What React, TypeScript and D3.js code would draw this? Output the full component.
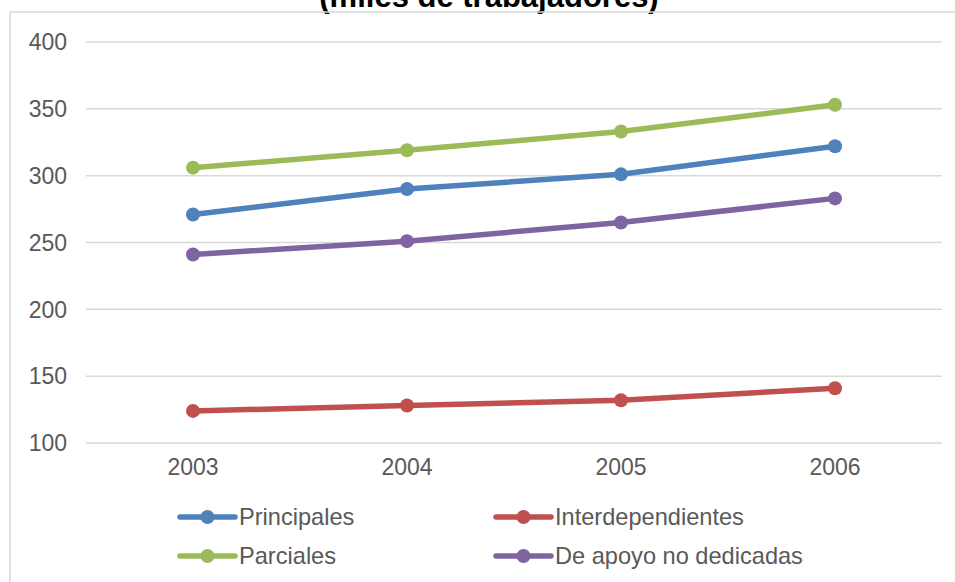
import React from 'react';
import * as d3 from 'd3';

const years = ['2003', '2004', '2005', '2006'];
const principales = [271, 290, 301, 322];
const interdependientes = [124, 128, 132, 141];
const parciales = [306, 319, 333, 353];
const deApoyo = [241, 251, 265, 283];
const yTicks = [100, 150, 200, 250, 300, 350, 400];

const seriesNames = ['Principales', 'Interdependientes', 'Parciales', 'De apoyo no dedicadas'];
const seriesValues = [principales, interdependientes, parciales, deApoyo];
const seriesColors = ['#4f81bd', '#c0504d', '#9bbb59', '#8064a2'];

const W = 955;
const H = 582;
const FONT = '"Liberation Sans", Arial, Helvetica, sans-serif';

export default function App() {
  const x = d3.scaleBand<string>().domain(years).range([86, 942]);
  const y = d3.scaleLinear().domain([100, 400]).range([443, 42]);
  const cx = (yr: string) => (x(yr) as number) + x.bandwidth() / 2;
  const line = d3
    .line<number>()
    .x((_, i) => cx(years[i]))
    .y((v) => y(v));

  const legendPos = [
    { lx: 180, ly: 517 },
    { lx: 496, ly: 517 },
    { lx: 180, ly: 556 },
    { lx: 496, ly: 556 },
  ];

  return (
    <svg
      width={W}
      height={H}
      style={{ position: 'absolute', left: 0, top: 0, background: '#fff' }}
      fontFamily={FONT}
    >
      <rect x={0} y={0} width={W} height={H} fill="#fff" />
      <text x={489} y={7} textAnchor="middle" fontWeight="bold" fontSize={31} fill="#000">
        (miles de trabajadores)
      </text>
      <rect x={10} y={12} width={W + 10} height={H + 10} fill="none" stroke="#d9d9d9" strokeWidth={1.5} />
      {yTicks.map((t) => (
        <g key={t}>
          <line x1={86} x2={942} y1={y(t)} y2={y(t)} stroke="#d9d9d9" strokeWidth={1.5} />
          <text x={67} y={y(t)} dy="0.36em" textAnchor="end" fontSize={23} fill="#595959">
            {t}
          </text>
        </g>
      ))}
      {years.map((yr) => (
        <text key={yr} x={cx(yr)} y={475} textAnchor="middle" fontSize={23} fill="#595959">
          {yr}
        </text>
      ))}
      {seriesValues.map((vals, si) => (
        <g key={si}>
          <path d={line(vals) || ''} fill="none" stroke={seriesColors[si]} strokeWidth={5.5} strokeLinejoin="round" strokeLinecap="round" />
          {vals.map((v, i) => (
            <circle key={i} cx={cx(years[i])} cy={y(v)} r={7} fill={seriesColors[si]} />
          ))}
        </g>
      ))}
      {seriesNames.map((name, si) => {
        const { lx, ly } = legendPos[si];
        return (
          <g key={name}>
            <line x1={lx} x2={lx + 55} y1={ly} y2={ly} stroke={seriesColors[si]} strokeWidth={5.5} strokeLinecap="round" />
            <circle cx={lx + 27.5} cy={ly} r={7} fill={seriesColors[si]} />
            <text x={lx + 59} y={ly} dy="0.36em" fontSize={23.6} fill="#595959">
              {name}
            </text>
          </g>
        );
      })}
    </svg>
  );
}
